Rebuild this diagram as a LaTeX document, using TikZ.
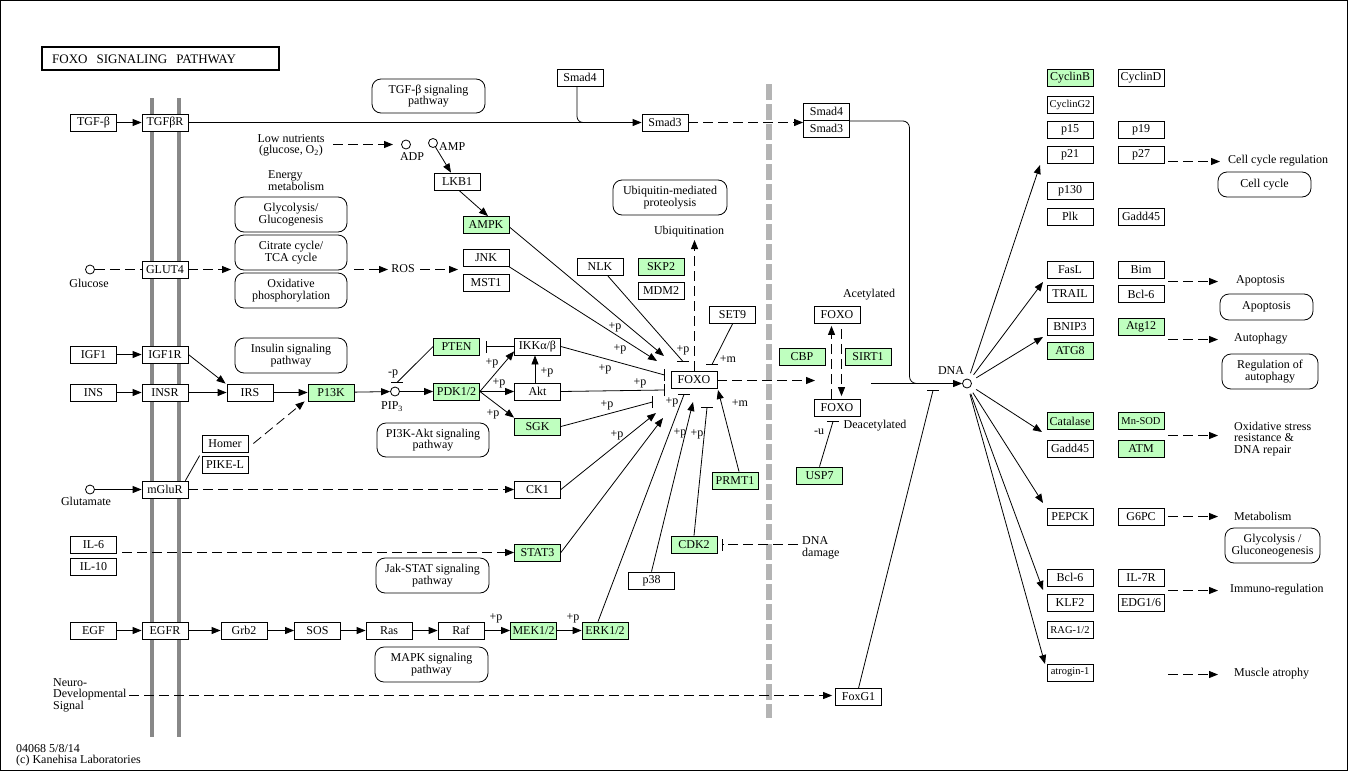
\documentclass[tikz,border=0pt]{standalone}
\usepackage{fontspec}
\setmainfont{Liberation Serif}
\usetikzlibrary{arrows.meta}
\definecolor{kgreen}{RGB}{191,255,191}
\definecolor{memb}{RGB}{136,136,136}
\definecolor{nucl}{RGB}{180,180,180}
\newcommand\kf{\fontsize{12}{11.5}\selectfont}
\newcommand\kfs{\fontsize{10.5}{11}\selectfont}
\newcommand\kbh[1]{\draw[line width=0.8pt] ([xshift=-6pt]#1) -- ([xshift=6pt]#1);}
\newcommand\kbv[1]{\draw[line width=0.8pt] ([yshift=-6pt]#1) -- ([yshift=6pt]#1);}
\begin{document}
\begin{tikzpicture}[x=1pt,y=-1pt,
  gene/.style={draw, fill=white, line width=0.8pt, minimum width=46pt, minimum height=17pt, inner sep=0pt, font=\kf},
  gg/.style={gene, fill=kgreen},
  pw/.style={draw, fill=white, line width=0.8pt, rounded corners=9pt, inner sep=0pt, align=center, font=\kf},
  lbl/.style={inner sep=0pt, font=\kf},
  cpd/.style={circle, draw, line width=0.8pt, minimum size=9pt, inner sep=0pt, fill=white},
  ln/.style={line width=0.8pt},
  arr/.style={ln, -{Triangle[length=9pt,width=7pt]}},
  dsh/.style={dash pattern=on 10pt off 5pt}]
\useasboundingbox (0,0) rectangle (1348,771);
\draw[line width=1pt] (0.5,0.5) rectangle (1347.5,770.5);
% membranes
\draw[memb, line width=3.5pt] (152,98) -- (152,737);
\draw[memb, line width=3.5pt] (179,98) -- (179,737);
\draw[nucl, line width=6pt, dash pattern=on 16pt off 4pt] (769,84) -- (769,718);
% title
\node[draw, line width=2pt, minimum width=237pt, minimum height=23pt, inner sep=0pt] (title) at (160.5,58.5) {};
\node[inner sep=0pt, font=\fontsize{13}{13}\selectfont, anchor=west] (titletext) at (52,59) {FOXO\hspace{9pt}SIGNALING\hspace{9pt}PATHWAY};
% pathway boxes
\node[pw, minimum width=113pt, minimum height=34pt] (tgfpw) at (428.5,96) {TGF-β signaling\\pathway};
\node[pw, minimum width=114pt, minimum height=35pt] (ubpw) at (670,197.5) {Ubiquitin-mediated\\proteolysis};
\node[pw, minimum width=112pt, minimum height=35pt] (glypw) at (291,214.5) {Glycolysis/\\Glucogenesis};
\node[pw, minimum width=112pt, minimum height=35pt] (tcapw) at (291,252.5) {Citrate cycle/\\TCA cycle};
\node[pw, minimum width=112pt, minimum height=35pt] (oxpw) at (291,290.5) {Oxidative\\phosphorylation};
\node[pw, minimum width=112pt, minimum height=35pt] (inspw) at (291,355.5) {Insulin signaling\\pathway};
\node[pw, minimum width=112pt, minimum height=34pt] (pi3pw) at (433,440) {PI3K-Akt signaling\\pathway};
\node[pw, minimum width=113pt, minimum height=35pt] (jakpw) at (432.5,575.5) {Jak-STAT signaling\\pathway};
\node[pw, minimum width=113pt, minimum height=35pt] (mapkpw) at (431.5,664.5) {MAPK signaling\\pathway};
\node[pw, minimum width=93pt, minimum height=25pt] (ccpw) at (1264.5,184.5) {Cell cycle};
\node[pw, minimum width=93pt, minimum height=26pt] (appw) at (1266.5,307) {Apoptosis};
\node[pw, minimum width=96pt, minimum height=35pt] (aupw) at (1270,371.5) {Regulation of\\autophagy};
\node[pw, minimum width=95pt, minimum height=35pt] (gngpw) at (1272.5,545.5) {Glycolysis /\\Gluconeogenesis};
% genes left
\node[gene] (tgfb) at (93.5,122.5) {TGF-β};
\node[gene] (tgfbr) at (165,122.5) {TGFβR};
\node[gene] (smad4) at (580,77.5) {Smad4};
\node[gene] (smad3) at (665,122.5) {Smad3};
\node[gene] (cx4) at (826.5,111.5) {Smad4};
\node[gene] (cx3) at (826.5,128.5) {Smad3};
\node[gene] (lkb1) at (457,181.5) {LKB1};
\node[gg] (ampk) at (486,225) {AMPK};
\node[gene] (glut4) at (165,269.5) {GLUT4};
\node[gene] (jnk) at (486,258) {JNK};
\node[gene] (mst1) at (486,282.5) {MST1};
\node[gene] (nlk) at (600,267) {NLK};
\node[gg] (skp2) at (661,267) {SKP2};
\node[gene] (mdm2) at (661,291) {MDM2};
\node[gene] (igf1) at (93.5,354.5) {IGF1};
\node[gene] (igf1r) at (165,354.5) {IGF1R};
\node[gene] (ins) at (93.5,392.5) {INS};
\node[gene] (insr) at (165,392.5) {INSR};
\node[gene] (irs) at (250,392.5) {IRS};
\node[gg] (p13k) at (331,392.5) {P13K};
\node[gene] (homer) at (225,443.5) {Homer};
\node[gene] (pikel) at (225,464.5) {PIKE-L};
\node[gene] (mglur) at (165,489.5) {mGluR};
\node[gene] (ck1) at (537.5,489.5) {CK1};
\node[gg] (pten) at (456.5,346.5) {PTEN};
\node[gg] (pdk) at (456.5,391.5) {PDK1/2};
\node[gene] (ikk) at (537.5,346.5) {IKKα/β};
\node[gene] (akt) at (537.5,391.5) {Akt};
\node[gg] (sgk) at (537.5,426.5) {SGK};
\node[gene] (set9) at (732.5,315) {SET9};
\node[gene] (foxo) at (694,379.5) {FOXO};
\node[gg] (prmt1) at (735,480.5) {PRMT1};
\node[gg] (cdk2) at (694,544.5) {CDK2};
\node[gene] (p38) at (651.5,580.5) {p38};
\node[gene] (il6) at (93.5,545) {IL-6};
\node[gene] (il10) at (93.5,567) {IL-10};
\node[gg] (stat3) at (537.5,552.5) {STAT3};
\node[gene] (egf) at (93.5,630.5) {EGF};
\node[gene] (egfr) at (165,630.5) {EGFR};
\node[gene] (grb2) at (244,630.5) {Grb2};
\node[gene] (sos) at (317.5,630.5) {SOS};
\node[gene] (ras) at (389,630.5) {Ras};
\node[gene] (raf) at (461,630.5) {Raf};
\node[gg] (mek) at (533.5,630.5) {MEK1/2};
\node[gg] (erk) at (605,630.5) {ERK1/2};
\node[gene] (foxoa) at (837,315) {FOXO};
\node[gene] (foxod) at (837,408) {FOXO};
\node[gg] (cbp) at (802,357) {CBP};
\node[gg] (sirt1) at (868,357) {SIRT1};
\node[gg] (usp7) at (819.5,475.5) {USP7};
\node[gene] (foxg1) at (858.5,697) {FoxG1};
% genes right
\node[gg] (cycb) at (1070,78) {CyclinB};
\node[gene] (cycd) at (1141,78) {CyclinD};
\node[gene, font=\kfs] (cycg2) at (1070,105) {CyclinG2};
\node[gene] (p15) at (1070,130) {p15};
\node[gene] (p19) at (1141,130) {p19};
\node[gene] (p21) at (1070,155) {p21};
\node[gene] (p27) at (1141,155) {p27};
\node[gene] (p130) at (1070,191) {p130};
\node[gene] (plk) at (1070,216.5) {Plk};
\node[gene] (gadda) at (1141,216.5) {Gadd45};
\node[gene] (fasl) at (1070,270) {FasL};
\node[gene] (bim) at (1141,270) {Bim};
\node[gene] (trail) at (1070,294) {TRAIL};
\node[gene] (bclsa) at (1141,294) {Bcl-6};
\node[gene] (bnip3) at (1070,326.5) {BNIP3};
\node[gg] (atg12) at (1141,326.5) {Atg12};
\node[gg] (atg8) at (1070,351) {ATG8};
\node[gg] (catalase) at (1070,421) {Catalase};
\node[gg, font=\kfs] (mnsod) at (1141,421) {Mn-SOD};
\node[gene] (gaddb) at (1070,448.5) {Gadd45};
\node[gg] (atm) at (1141,448.5) {ATM};
\node[gene] (pepck) at (1070,517) {PEPCK};
\node[gene] (g6pc) at (1141,517) {G6PC};
\node[gene] (bclsb) at (1070,577.5) {Bcl-6};
\node[gene] (il7r) at (1141,577.5) {IL-7R};
\node[gene] (klf2) at (1070,603) {KLF2};
\node[gene] (edg) at (1141,603) {EDG1/6};
\node[gene, font=\kfs] (rag) at (1070,630) {RAG-1/2};
\node[gene, font=\kfs] (atrogin) at (1070,672.5) {atrogin-1};
% compounds
\node[cpd] (adp) at (406,144.5) {};
\node[lbl] (adpl) at (412,157) {ADP};
\node[cpd] (amp) at (433,143) {};
\node[lbl, anchor=west] (ampl) at (439,147) {AMP};
\node[cpd] (glucose) at (90,269.5) {};
\node[lbl] (glucl) at (89,283) {Glucose};
\node[cpd] (glutamate) at (90,489.5) {};
\node[lbl] (glutl) at (86,501) {Glutamate};
\node[cpd] (pip3) at (395,391.5) {};
\node[lbl] (pip3l) at (392,407) {PIP\textsubscript{3}};
\node[cpd] (dna) at (967,383.5) {};
\node[lbl] (dnal) at (951,371) {DNA};
% text labels
\node[lbl, align=center] (lown) at (291,145.5) {Low nutrients\\(glucose, O\textsubscript{2})};
\node[lbl, align=left, anchor=west] (energy) at (268,180.5) {Energy\\metabolism};
\node[lbl] (ros) at (403,269) {ROS};
\node[lbl] (ubq) at (689,232) {Ubiquitination};
\node[lbl] (acet) at (869,295) {Acetylated};
\node[lbl] (deacet) at (875,426) {Deacetylated};
\node[lbl, align=left, anchor=west] (dnadmg) at (802,548) {DNA\\damage};
\node[lbl, align=left, anchor=west] (neuro) at (53,695) {Neuro-\\Developmental\\Signal};
\node[lbl, anchor=west] (foot1) at (16,749) {04068 5/8/14};
\node[lbl, anchor=west] (foot2) at (16,761) {(c) Kanehisa Laboratories};
\node[lbl, anchor=west] (ccr) at (1228,161) {Cell cycle regulation};
\node[lbl, anchor=west] (apl) at (1236,281) {Apoptosis};
\node[lbl, anchor=west] (aul) at (1234,339) {Autophagy};
\node[lbl, anchor=west, align=left] (oxl) at (1234,439) {Oxidative stress\\resistance \&\\DNA repair};
\node[lbl, anchor=west] (mel) at (1234,516) {Metabolism};
\node[lbl, anchor=west] (iml) at (1230,590) {Immuno-regulation};
\node[lbl, anchor=west] (mul) at (1234,674) {Muscle atrophy};
% modification labels
\node[lbl] (pa) at (615,327) {+p};
\node[lbl] (pb) at (620,349) {+p};
\node[lbl] (pc) at (605,369) {+p};
\node[lbl] (pd) at (640,383) {+p};
\node[lbl] (pe) at (607,405) {+p};
\node[lbl] (pf) at (617,435) {+p};
\node[lbl] (pg) at (683,350) {+p};
\node[lbl] (ph) at (672,402) {+p};
\node[lbl] (pi) at (680,433) {+p};
\node[lbl] (pj) at (697,434) {+p};
\node[lbl] (ma) at (728,359) {+m};
\node[lbl] (mb) at (740,403) {+m};
\node[lbl] (ua) at (819,432) {-u};
\node[lbl] (pk) at (393,374) {-p};
\node[lbl] (pl) at (492,363) {+p};
\node[lbl] (pm) at (499,383) {+p};
\node[lbl] (pn) at (493,414) {+p};
\node[lbl] (po) at (547,372) {+p};
\node[lbl] (pq) at (496,618) {+p};
\node[lbl] (pr) at (573,618) {+p};
% coordinates
\coordinate (lnE) at (333,144.5); \coordinate (lnT) at (393,144.5);
\coordinate (tTCA) at (231,269.5);
\coordinate (rosA) at (354,269.5); \coordinate (rosB) at (388,269.5);
\coordinate (rosC) at (420,269.5); \coordinate (rosD) at (458,269.5);
\coordinate (bPIP) at (397,382.5);
\coordinate (bPTEN) at (486.5,346.5);
\coordinate (tAMPK) at (664,356);
\coordinate (tJNK) at (657,361);
\coordinate (bNLK) at (683,361.5);
\coordinate (bIKK) at (664.5,375);
\coordinate (bAKT) at (664.5,390);
\coordinate (bSGK) at (652.5,402);
\coordinate (tCK1) at (656,413);
\coordinate (tSTAT) at (663,418);
\coordinate (bERK) at (684,394.5);
\coordinate (tP38) at (693,402);
\coordinate (bCDK) at (707,407.5);
\coordinate (tPRMT) at (718,390);
\coordinate (bSET) at (712,364.5);
\coordinate (tUb) at (694.5,240);
\coordinate (tNuc) at (815,380.5);
\coordinate (bUSP) at (833,421.5);
\coordinate (dd) at (798,544.5); \coordinate (bDD) at (722.5,544.5);
\coordinate (il6e) at (122,552.5);
\coordinate (neuroE) at (129,695.5);
\coordinate (bFG) at (933,390.5);
\coordinate (nf) at (871,383.5);
\coordinate (oCC) at (1040,165);
\coordinate (oAP) at (1043,282);
\coordinate (oAU) at (1043,337);
\coordinate (oOX) at (1042,432);
\coordinate (oME) at (1043,503);
\coordinate (oIM) at (1043,590);
\coordinate (oMU) at (1045,664);
% connectors
\draw[arr] (tgfb) -- (tgfbr);
\draw[arr] (tgfbr) -- (smad3);
\draw[ln, rounded corners=6pt] ([xshift=-3pt]smad4.south) |- (592,122.5);
\draw[arr,dsh] (smad3.east) -- (smad3.east -| cx4.west);
\draw[ln, rounded corners=7pt] ([yshift=-0.5pt]cx4.south east) -| (909.5,383.5) -- (930,383.5);
\draw[arr] (nf) -- (dna);
\draw[arr,dsh] (lnE) -- (lnT);
\draw[arr] (amp) -- ([xshift=-6pt]lkb1.north);
\draw[arr] ([xshift=2pt]lkb1.south) -- ([xshift=2pt]ampk.north);
\draw[ln,dsh] (glucose) -- (glut4);
\draw[arr,dsh] (glut4) -- (tTCA);
\draw[arr,dsh] (rosA) -- (rosB);
\draw[arr,dsh] (rosC) -- (rosD);
\draw[arr] (igf1) -- (igf1r);
\draw[arr] (ins) -- (insr);
\draw[arr] (igf1r.east) -- ([xshift=-1pt]irs.north west);
\draw[arr] (insr) -- (irs);
\draw[arr] (irs) -- (p13k);
\draw[arr,dsh] ([xshift=5pt]homer.east) -- ([xshift=-3pt]p13k.south west);
\draw[ln] ([xshift=-3pt]mglur.north east) -- ([xshift=-2pt]pikel.north west);
\draw[arr] (glutamate) -- (mglur);
\draw[arr,dsh] (mglur) -- (ck1);
\draw[arr] (p13k) -- (pip3);
\draw[arr] (pip3) -- (pdk);
\draw[ln] (pten.west) -- (bPIP); \kbh{bPIP}
\draw[arr] (pdk.east) -- ([yshift=4pt]ikk.south west);
\draw[arr] (pdk) -- (akt);
\draw[arr] (pdk.east) -- (sgk.north west);
\draw[arr] ([xshift=-2.5pt]akt.north) -- ([xshift=-2.5pt]ikk.south);
\draw[ln] (ikk.west) -- (bPTEN); \kbv{bPTEN}
\draw[arr] ([yshift=-2pt]ampk.east) -- (tAMPK);
\draw[arr] (jnk.south east) -- (tJNK);
\draw[ln] (nlk) -- (bNLK); \kbh{bNLK}
\draw[ln] (ikk.east) -- (bIKK); \kbv{bIKK}
\draw[ln] (akt.east) -- (bAKT); \kbv{bAKT}
\draw[ln] (sgk.east) -- (bSGK); \kbv{bSGK}
\draw[arr] (ck1.east) -- (tCK1);
\draw[arr] (stat3.east) -- (tSTAT);
\draw[ln] ([xshift=-7pt]erk.north) -- (bERK); \kbh{bERK}
\draw[arr] (p38.north) -- (tP38);
\draw[ln] (cdk2.north) -- (bCDK); \kbh{bCDK}
\draw[arr] ([xshift=4pt]prmt1.north) -- (tPRMT);
\draw[ln] (set9.south) -- (bSET); \kbh{bSET}
\draw[arr,dsh] ([xshift=0.5pt]foxo.north) -- (tUb);
\draw[arr,dsh] ([yshift=-1pt]foxo.east) -- (tNuc);
\draw[arr,dsh] ([xshift=-5.5pt]foxod.north) -- ([xshift=-5.5pt,yshift=-2pt]foxoa.south);
\draw[arr,dsh] ([xshift=4.5pt,yshift=-5pt]foxoa.south) -- ([xshift=4.5pt,yshift=3pt]foxod.north);
\draw[ln] (usp7.north) -- (bUSP); \kbh{bUSP}
\draw[ln,dsh] (dd) -- (bDD); \kbv{bDD}
\draw[arr,dsh] (il6e) -- (stat3.west);
\draw[arr] (egf) -- (egfr);
\draw[arr] (egfr) -- (grb2);
\draw[arr] (grb2) -- (sos);
\draw[arr] (sos) -- (ras);
\draw[arr] (ras) -- (raf);
\draw[arr] (raf) -- (mek);
\draw[arr] (mek) -- (erk);
\draw[arr,dsh,shorten >=3pt] (neuroE) -- (foxg1.west |- neuroE);
\draw[ln] (foxg1.north) -- (bFG); \kbh{bFG}
\foreach \t in {oCC,oAP,oAU,oOX,oME,oIM,oMU} \draw[arr, shorten <=6pt] (dna) -- (\t);
\draw[arr,dsh] (1168,161.5) -- (1220,161.5);
\draw[arr,dsh] (1168,281.5) -- (1218,281.5);
\draw[arr,dsh] (1168,339.5) -- (1218,339.5);
\draw[arr,dsh] (1168,435.5) -- (1218,435.5);
\draw[arr,dsh] (1168,516.5) -- (1218,516.5);
\draw[arr,dsh] (1168,590.5) -- (1218,590.5);
\draw[arr,dsh] (1168,674.5) -- (1218,674.5);
\end{tikzpicture}
\end{document}
